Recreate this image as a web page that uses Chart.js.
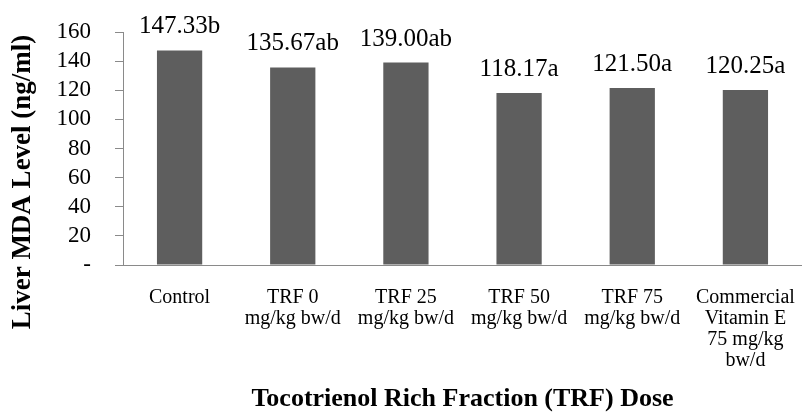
<!DOCTYPE html>
<html>
<head>
<meta charset="utf-8">
<script src="https://cdn.jsdelivr.net/npm/chart.js@4.4.1/dist/chart.umd.min.js"></script>
<style>
  html, body { margin: 0; padding: 0; background: #ffffff; }
  #wrap { width: 802px; height: 412px; }
</style>
</head>
<body>
<div id="wrap"><canvas id="c" width="802" height="412"></canvas></div>
<script>
const categories = [
  "Control",
  ["TRF 0", "mg/kg bw/d"],
  ["TRF 25", "mg/kg bw/d"],
  ["TRF 50", "mg/kg bw/d"],
  ["TRF 75", "mg/kg bw/d"],
  ["Commercial", "Vitamin E", "75 mg/kg", "bw/d"]
];
const mdaValues = [147.33, 135.67, 139.00, 118.17, 121.50, 120.25];
const significance = ["b", "ab", "ab", "a", "a", "a"];
const yTicks = [0, 20, 40, 60, 80, 100, 120, 140, 160];
const yTitle = "Liver MDA Level (ng/ml)";
const xTitle = "Tocotrienol Rich Fraction (TRF) Dose";

const FONT = "'Liberation Serif', 'Times New Roman', serif";

const valueLabels = {
  id: 'valueLabels',
  afterDatasetsDraw(chart) {
    const ctx = chart.ctx;
    const meta = chart.getDatasetMeta(0);
    ctx.save();
    ctx.font = "25px " + FONT;
    ctx.fillStyle = "#000";
    ctx.textAlign = "center";
    ctx.textBaseline = "alphabetic";
    meta.data.forEach((bar, i) => {
      ctx.fillText(mdaValues[i].toFixed(2) + significance[i], bar.x, bar.y - 17);
    });
    ctx.restore();
  }
};

const yAxisTitle = {
  id: 'yAxisTitle',
  afterDraw(chart) {
    const ctx = chart.ctx;
    ctx.save();
    ctx.translate(23, 182);
    ctx.rotate(-Math.PI / 2);
    ctx.font = "bold 27px " + FONT;
    ctx.fillStyle = "#000";
    ctx.textAlign = "center";
    ctx.textBaseline = "middle";
    ctx.fillText(yTitle, 0, 0);
    ctx.restore();
  }
};

new Chart(document.getElementById('c'), {
  type: 'bar',
  data: {
    labels: categories,
    datasets: [{
      data: mdaValues,
      backgroundColor: '#5e5e5e',
      borderWidth: 0,
      barPercentage: 0.4,
      categoryPercentage: 1.0
    }]
  },
  options: {
    responsive: false,
    animation: false,
    devicePixelRatio: 1,
    layout: { padding: { top: 32, right: 0, bottom: 0, left: 0 } },
    plugins: { legend: { display: false }, tooltip: { enabled: false } },
    scales: {
      x: {
        afterFit(scale) {
          scale.height = 147;
          scale.paddingLeft = 0;
          scale.paddingRight = 0;
        },
        grid: { display: true, drawOnChartArea: false, drawTicks: false },
        border: { display: true, color: '#8a8a8a', width: 1 },
        ticks: {
          color: '#000',
          font: { family: FONT, size: 20, lineHeight: 1.05 },
          padding: 22,
          maxRotation: 0,
          autoSkip: false
        },
        title: {
          display: true,
          text: xTitle,
          color: '#000',
          font: { family: FONT, size: 26, weight: 'bold', lineHeight: 1 },
          padding: 0
        }
      },
      y: {
        min: 0,
        max: 160,
        afterFit(scale) {
          scale.width = 123;
          scale.paddingTop = 0;
          scale.paddingBottom = 0;
        },
        afterBuildTicks(scale) { scale.ticks = yTicks.map(v => ({ value: v })); },
        grid: { display: true, drawOnChartArea: false, drawTicks: true, tickLength: 8, color: '#8a8a8a' },
        border: { display: true, color: '#8a8a8a', width: 1 },
        ticks: {
          color: '#000',
          font: { family: FONT, size: 23, lineHeight: 1 },
          padding: 24,
          autoSkip: false,
          callback: (v) => v === 0 ? '-' : String(v)
        },
        title: { display: false }
      }
    }
  },
  plugins: [valueLabels, yAxisTitle]
});
</script>
</body>
</html>
